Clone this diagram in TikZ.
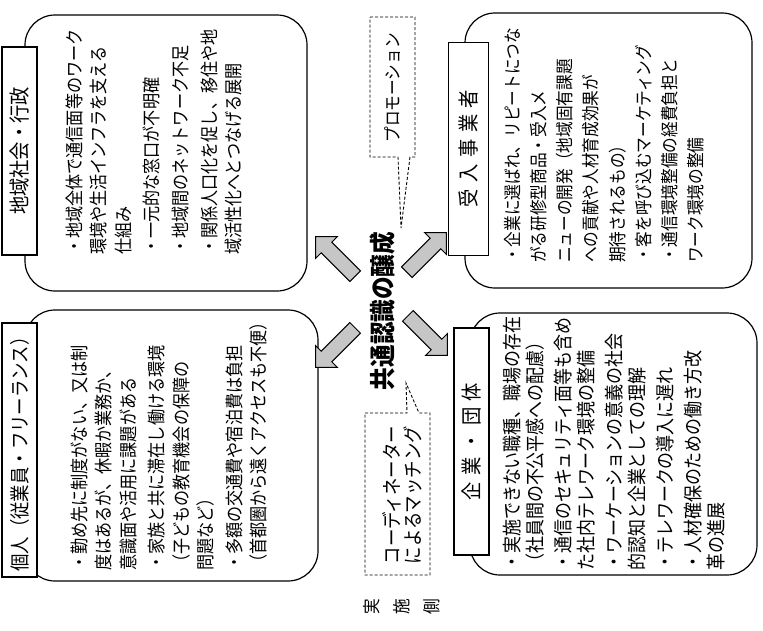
\documentclass[tikz,border=0pt]{standalone}
\usepackage{fontspec}
\newfontfamily\jp[FakeStretch=0.87]{Noto Sans CJK JP}
\usetikzlibrary{shapes.arrows}
\begin{document}
\begin{tikzpicture}[x=1pt,y=-1pt,
 frame/.style={draw, line width=1.2pt, rounded corners=30pt, inner sep=0pt},
 titlebox/.style={draw, fill=white, line width=1.1pt, inner sep=0pt, rotate=90},
 bodytext/.style={rotate=90, anchor=north west, inner sep=0pt, align=left},
 rtext/.style={rotate=90, inner sep=0pt, align=left},
 bigarrow/.style={single arrow, draw=black, line width=1pt, fill=gray!45, minimum height=56pt, inner xsep=0pt, inner ysep=7pt, single arrow head extend=8pt},
 callout/.style={draw, line width=0.9pt, dash pattern=on 3pt off 2pt}
]
\useasboundingbox (0,0) rectangle (763,630);
\fill[white] (0,0) rectangle (763,630);

% frames
\node[frame, minimum width=282pt, minimum height=276pt] (f1) at (166,153) {};
\node[frame, minimum width=293pt, minimum height=271pt] (f2) at (171.5,445.5) {};
\node[frame, minimum width=287pt, minimum height=275pt] (f3) at (608.5,150.5) {};
\node[frame, minimum width=287pt, minimum height=262pt] (f4) at (613.5,444) {};

% titles
\node[titlebox, minimum width=208pt, minimum height=35pt, font=\jp\fontsize{21}{24}\selectfont] (t1) at (19.5,151) {地域社会・行政};
\node[titlebox, minimum width=254pt, minimum height=35pt, font=\jp\fontsize{20}{24}\selectfont] (t2) at (19.5,450) {個人（従業員・フリーランス）};
\node[titlebox, minimum width=213pt, minimum height=40pt, line width=0.9pt, font=\jp\fontsize{21}{24}\selectfont] (t3) at (468.5,148.5) {受\hspace{6.5pt}入\hspace{6.5pt}事\hspace{6.5pt}業\hspace{6.5pt}者};
\node[titlebox, minimum width=227pt, minimum height=35pt, font=\jp\fontsize{21}{24}\selectfont] (t4) at (471.5,441.5) {企\hspace{6.5pt}業\hspace{6.5pt}・\hspace{6.5pt}団\hspace{6.5pt}体};

% body texts
\node[bodytext, font=\jp\fontsize{18.5}{24.3}\selectfont] (b1) at (65.6,255) {%
・地域全体で通信面等のワーク\\
環境や生活インフラを支える\\
仕組み\\[4.5pt]
・一元的な窓口が不明確\\[4.5pt]
・地域間のネットワーク不足\\[4.5pt]
・関係人口化を促し、移住や地\\
域活性化へとつなげる展開};

\node[bodytext, font=\jp\fontsize{18.5}{24.3}\selectfont] (b2) at (70.6,571) {%
・勤め先に制度がない、又は制\\
度はあるが、休暇か業務か、\\
意識面や活用に課題がある\\[4.5pt]
・家族と共に滞在し働ける環境\\
（子どもの教育機会の保障の\\
問題など）\\[4.5pt]
・多額の交通費や宿泊費は負担\\
（首都圏から遠くアクセスも不便）};

\node[bodytext, font=\jp\fontsize{18}{26.2}\selectfont] (b3) at (504,263) {%
・企業に選ばれ、リピートにつな\\
がる研修型商品・受入メ\\
ニューの開発（地域固有課題\\
への貢献や人材育成効果が\\
期待されるもの）\\
・客を呼び込むマーケティング\\
・通信環境整備の経費負担と\\
ワーク環境の整備};

\node[bodytext, font=\jp\fontsize{19.5}{23}\selectfont] (b4) at (503.3,571) {%
・実施できない職種、職場の存在\\
（社員間の不公平感への配慮）\\[5pt]
・通信のセキュリティ面等も含め\\
た社内テレワーク環境の整備\\[5pt]
・ワーケーションの意義の社会\\
的認知と企業としての理解\\[5pt]
・テレワークの導入に遅れ\\[5pt]
・人材確保のための働き方改\\
革の進展};

% arrows
\node[bigarrow, rotate=135] (aTL) at (338,259) {};
\node[bigarrow, rotate=45] (aTR) at (424,255) {};
\node[bigarrow, rotate=225] (aBL) at (338,345) {};
\node[bigarrow, rotate=315] (aBR) at (425,333) {};

% center
\node[rtext, font=\jp\bfseries\fontsize{26}{28}\selectfont] (ctr) at (383,311) {共通認識の醸成};

% callouts
\coordinate (pTip) at (401,228);
\coordinate (cTip) at (406,383);
\path[callout] (370,17) -- (415,17) -- (415,157) -- (410,157) -- (pTip) -- (398,157) -- (370,157) -- cycle;
\node[rtext, font=\jp\fontsize{18}{20}\selectfont] (promo) at (392.5,88) {プロモーション};
\path[callout] (365,413) -- (407,413) -- (cTip) -- (419,413) -- (430,413) -- (430,575) -- (365,575) -- cycle;
\node[rtext, font=\jp\fontsize{20}{21}\selectfont] (coord) at (402.5,495) {コーディネーター\\によるマッチング};

% side label
\node[rtext, align=center, font=\jp\fontsize{18}{30}\selectfont] (side) at (402,607) {実\\施\\側};
\end{tikzpicture}
\end{document}
